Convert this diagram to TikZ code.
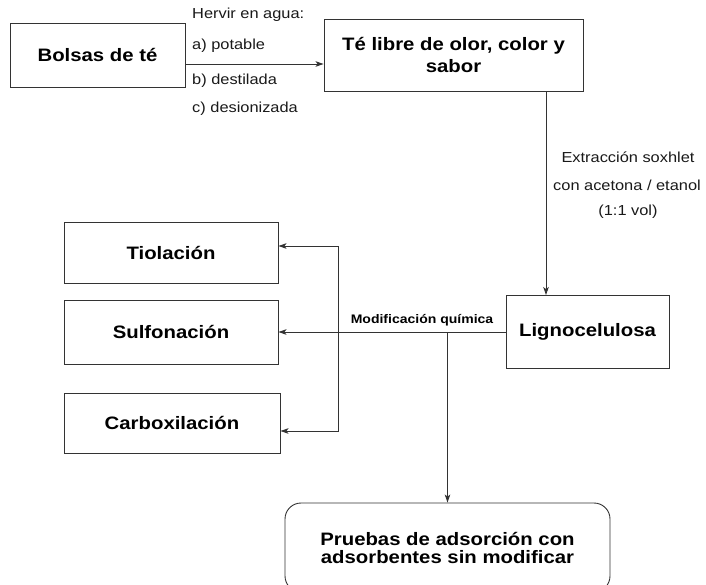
\documentclass[tikz,border=0pt]{standalone}
\usepackage{fontspec}
\setmainfont{Liberation Sans}[FakeStretch=1.13]
\usepackage{xcolor}
\usepackage{tikz}
\usetikzlibrary{arrows.meta, positioning}

\begin{document}
\begin{tikzpicture}[x=1pt, y=-1pt,
					>={Stealth[length=8pt, width=5.5pt, inset=2pt]},
					flecha/.style={->, draw=black!80, line width=0.9pt},
					caja/.style={draw=black!80, line width=0.9pt, rectangle, align=center,
						inner sep=0pt, font=\fontsize{18}{22}\selectfont\bfseries},
					etiq/.style={font=\fontsize{14.5}{17}\selectfont, inner sep=0pt, text=black!90}]

					\useasboundingbox (0,0) rectangle (706,584);

					\node[caja, minimum width=175pt, minimum height=64pt] (bolsas) at (97.5,55) {Bolsas de té};
					\node[caja, minimum width=259pt, minimum height=72pt] (telibre) at (453.5,55) {Té libre de olor, color y\\sabor};
					\node[caja, minimum width=163pt, minimum height=73pt] (ligno) at (587.5,332) {Lignocelulosa};
					\node[caja, minimum width=214pt, minimum height=61pt] (tiol) at (171,252.5) {Tiolación};
					\node[caja, minimum width=214pt, minimum height=64pt] (sulf) at (171,332) {Sulfonación};
					\node[caja, minimum width=216pt, minimum height=60pt] (carbox) at (172,423) {Carboxilación};
					\node[caja, rounded corners=16pt, minimum width=325pt, minimum height=89pt,
						font=\fontsize{18}{18}\selectfont\bfseries] (pruebas) at (447.5,547.5)
						{Pruebas de adsorción con\\adsorbentes sin modificar};

					\node[etiq, anchor=west] (hervir) at (192,15) {Hervir en agua:};
					\node[etiq, anchor=west] (potable) at (192,46) {a) potable};
					\node[etiq, anchor=west] (destilada) at (192,81) {b) destilada};
					\node[etiq, anchor=west] (desion) at (192,109) {c) desionizada};

					\node[etiq] (soxhlet) at (628,157) {Extracción soxhlet};
					\node[etiq] (acetona) at (627,185) {con acetona / etanol};
					\node[etiq] (vol) at (628,212) {(1:1 vol)};

					\node[inner sep=0pt, font=\fontsize{12.4}{14}\selectfont\bfseries] (modif) at (422,320) {Modificación química};

					\coordinate (bus) at (338,332);

					\draw[flecha] ([yshift=-9pt]bolsas.east) -- ([yshift=-9pt]bolsas.east -| telibre.west);
					\draw[flecha] ([xshift=-41.5pt]ligno.north |- telibre.south) -- ([xshift=-41.5pt]ligno.north);
					\draw[flecha] (ligno.west) -- (ligno.west -| sulf.east);
					\draw[flecha] (bus) |- ([yshift=6.5pt]tiol.east);
					\draw[flecha] (bus) |- ([yshift=-8pt]carbox.east);
					\draw[flecha] (ligno.west -| pruebas.north) -- (pruebas.north);
				\end{tikzpicture}
\end{document}
